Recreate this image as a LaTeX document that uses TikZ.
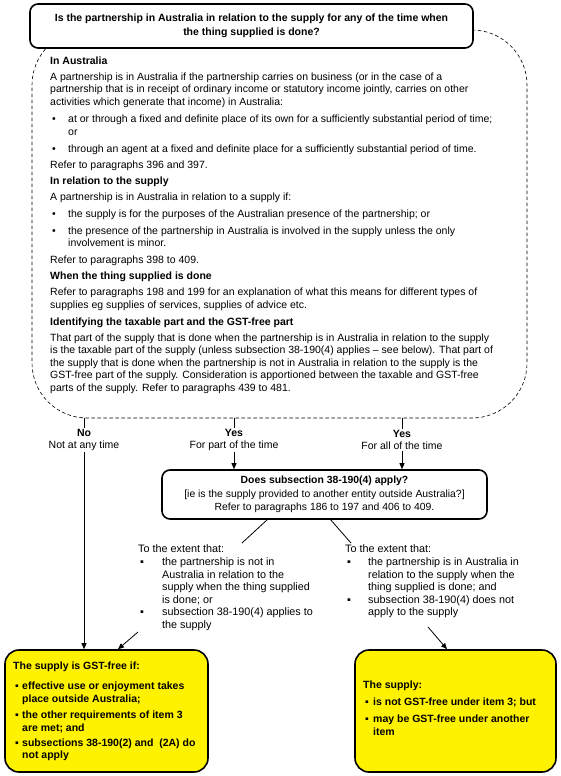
\documentclass[tikz,border=0pt]{standalone}
\usepackage{fontspec}
\setmainfont{Liberation Sans}
\usetikzlibrary{arrows.meta}
\newcommand\ml[1]{\vtop{\baselineskip=12.5pt\lineskiplimit=-20pt\lineskip=0pt\halign{##\hfil\cr#1\crcr}}}
\newcommand\fsb{\fontsize{10.5}{12.5}\selectfont}
\newcommand\fsq{\fontsize{10.5}{14}\selectfont}
\newcommand\fsm{\fontsize{10.4}{13.5}\selectfont}
\newcommand\fsl{\fontsize{10.8}{12.5}\selectfont}
\newcommand\fsy{\fontsize{10.5}{12.5}\selectfont}
\begin{document}
\begin{tikzpicture}[x=1pt,y=-1pt,
  txt/.style={anchor=base west,inner sep=0pt,font=\fsb},
  htxt/.style={anchor=base west,inner sep=0pt,font=\fsb\bfseries},
  ltxt/.style={anchor=base west,inner sep=0pt,font=\fsl},
  ytxt/.style={anchor=base west,inner sep=0pt,font=\fsy\bfseries},
  qbox/.style={draw,line width=1.6pt,rounded corners=8pt,fill=white,align=center,inner sep=0pt},
  ybox/.style={draw,line width=1.6pt,rounded corners=14pt,fill=yellow,inner sep=0pt},
  lab/.style={fill=white,align=center,inner sep=1pt,font=\fsb},
  conn/.style={line width=0.8pt},
  arr/.style={line width=0.8pt,-{Triangle[length=6pt,width=5pt]}}]
\useasboundingbox (0,0) rectangle (560,776);
% dashed explanatory region
\node[draw,dashed,dash pattern=on 3.5pt off 2.5pt,line width=0.6pt,rounded corners=55pt,minimum width=495pt,minimum height=388pt,inner sep=0pt] (dbox) at (279.5,224) {};
% top question
\node[qbox,minimum width=443pt,minimum height=44pt,font=\fsq\bfseries] (q) at (251.5,26) {Is the partnership in Australia in relation to the supply for any of the time when\\the thing supplied is done?};
% dashed box text
\node[htxt] (h1) at (50,64.5) {In Australia};
\node[txt] (p1) at (50,80.5) {\ml{A partnership is in Australia if the partnership carries on business (or in the case of a\cr partnership that is in receipt of ordinary income or statutory income jointly, carries on other\cr activities which generate that income) in Australia:}};
\node[txt] (b1d) at (52,122.5) {•};
\node[txt] (b1) at (68,122.5) {\ml{at or through a fixed and definite place of its own for a sufficiently substantial period of time;\cr or}};
\node[txt] (b2d) at (52,152) {•};
\node[txt] (b2) at (68,152) {through an agent at a fixed and definite place for a sufficiently substantial period of time.};
\node[txt] (r1) at (50,168) {Refer to paragraphs 396 and 397.};
\node[htxt] (h2) at (50,184) {In relation to the supply};
\node[txt] (p2) at (50,200) {A partnership is in Australia in relation to a supply if:};
\node[txt] (b3d) at (52,217) {•};
\node[txt] (b3) at (68,217) {the supply is for the purposes of the Australian presence of the partnership; or};
\node[txt] (b4d) at (52,234) {•};
\node[txt] (b4) at (68,234) {\ml{the presence of the partnership in Australia is involved in the supply unless the only\cr involvement is minor.}};
\node[txt] (r2) at (50,263.5) {Refer to paragraphs 398 to 409.};
\node[htxt] (h3) at (50,279.5) {When the thing supplied is done};
\node[txt] (p3) at (50,295.5) {\ml{Refer to paragraphs 198 and 199 for an explanation of what this means for different types of\cr supplies eg supplies of services, supplies of advice etc.}};
\node[htxt] (h4) at (50,325) {Identifying the taxable part and the GST-free part};
\node[txt] (p4) at (50,341) {\ml{That part of the supply that is done when the partnership is in Australia in relation to the supply\cr is the taxable part of the supply (unless subsection 38-190(4) applies – see below). That part of\cr the supply that is done when the partnership is not in Australia in relation to the supply is the\cr GST-free part of the supply. Consideration is apportioned between the taxable and GST-free\cr parts of the supply. Refer to paragraphs 439 to 481.}};
% middle question
\node[qbox,minimum width=325pt,minimum height=49pt,font=\fsm] (m) at (324.5,494.5) {\textbf{Does subsection 38-190(4) apply?}\\{[}ie is the supply provided to another entity outside Australia?{]}\\Refer to paragraphs 186 to 197 and 406 to 409.};
% yellow outcomes
\node[ybox,minimum width=203pt,minimum height=122pt] (yl) at (106.5,711) {};
\node[ybox,minimum width=201pt,minimum height=122pt] (yr) at (455.5,711) {};
% branch lines (drawn before labels so labels mask them)
\coordinate (cno) at (84,440);
\coordinate (cpart) at (234,440);
\coordinate (call) at (402,440);
\draw[arr] (cno |- dbox.south) -- (cno |- yl.north);
\draw[arr] (cpart |- dbox.south) -- (cpart |- m.north);
\draw[arr] (call |- dbox.south) -- (call |- m.north);
\node[lab] (lno) at (cno) {\textbf{No}\\Not at any time};
\node[lab] (lpart) at (cpart) {\textbf{Yes}\\For part of the time};
\node[lab] (lall) at (call) {\textbf{Yes}\\For all of the time};
% lower texts
\node[ltxt] (t1) at (138,552.5) {To the extent that:};
\node[ltxt] (t1a) at (140,565.5) {▪};
\node[ltxt] (t1b) at (162,565.5) {\ml{the partnership is not in\cr Australia in relation to the\cr supply when the thing supplied\cr is done; or}};
\node[ltxt] (t1c) at (140,615.5) {▪};
\node[ltxt] (t1d) at (162,615.5) {\ml{subsection 38-190(4) applies to\cr the supply}};
\node[ltxt] (t2) at (345,552.5) {To the extent that:};
\node[ltxt] (t2a) at (347,565.5) {▪};
\node[ltxt] (t2b) at (368,565.5) {\ml{the partnership is in Australia in\cr relation to the supply when the\cr thing supplied is done; and}};
\node[ltxt] (t2c) at (347,603) {▪};
\node[ltxt] (t2d) at (368,603) {\ml{subsection 38-190(4) does not\cr apply to the supply}};
% connectors middle -> texts -> outcomes
\coordinate (d1s) at (268,519);
\coordinate (d1e) at (242,543);
\coordinate (d2s) at (330,519);
\coordinate (d2e) at (351,543);
\draw[conn] (d1s) -- (d1e);
\draw[conn] (d2s) -- (d2e);
\coordinate (a1s) at (138,632);
\coordinate (a1e) at (118,650);
\coordinate (a2s) at (428,627);
\coordinate (a2e) at (447,650);
\draw[arr] (a1s) -- (a1e |- yl.north);
\draw[arr] (a2s) -- (a2e |- yr.north);
% yellow texts
\node[ytxt] (yl0) at (13,669.5) {The supply is GST-free if:};
\node[ytxt] (yl1d) at (15,689.5) {▪};
\node[ytxt] (yl1) at (22,689.5) {\ml{effective use or enjoyment takes\cr place outside Australia;}};
\node[ytxt] (yl2d) at (15,718.5) {▪};
\node[ytxt] (yl2) at (22,718.5) {\ml{the other requirements of item 3\cr are met; and}};
\node[ytxt] (yl3d) at (15,746) {▪};
\node[ytxt] (yl3) at (22,746) {\ml{subsections 38-190(2) and\ \ (2A) do\cr not apply}};
\node[ytxt] (yr0) at (363,688.5) {The supply:};
\node[ytxt] (yr1d) at (365,705.5) {▪};
\node[ytxt] (yr1) at (373,705.5) {is not GST-free under item 3; but};
\node[ytxt] (yr2d) at (365,722.5) {▪};
\node[ytxt] (yr2) at (373,722.5) {\ml{may be GST-free under another\cr item}};
\end{tikzpicture}
\end{document}
